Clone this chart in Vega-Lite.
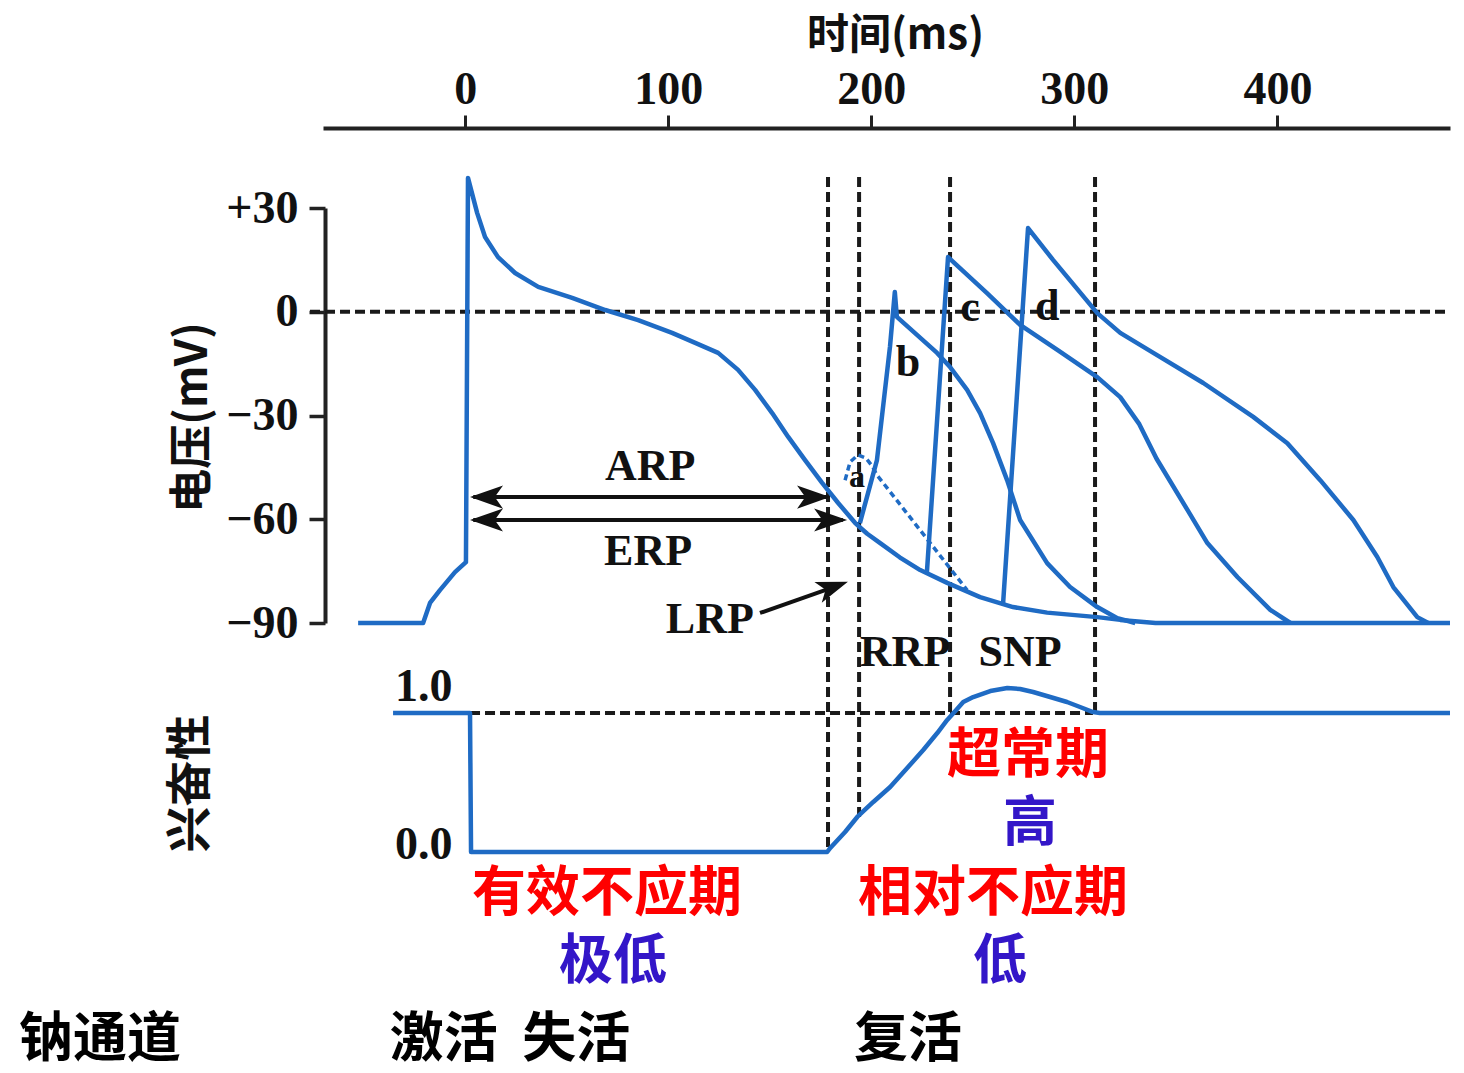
{
  "$schema": "https://vega.github.io/schema/vega-lite/v6.json",
  "width": 1127,
  "height": 945,
  "autosize": {"type": "none"},
  "padding": {"left": 323, "top": 128, "right": 14, "bottom": 0},
  "background": "white",
  "config": {"view": {"stroke": null}},
  "datasets": {
    "volt": [
      {"trace": "main", "t": -52.7, "v": -90}, {"trace": "main", "t": -20.7, "v": -90}, {"trace": "main", "t": -17.3, "v": -84.2},
      {"trace": "main", "t": -12.4, "v": -80.5}, {"trace": "main", "t": -5.0, "v": -75.3}, {"trace": "main", "t": 0.4, "v": -72.4},
      {"trace": "main", "t": 1.4, "v": 38.7}, {"trace": "main", "t": 5.9, "v": 28.6}, {"trace": "main", "t": 9.8, "v": 21.6},
      {"trace": "main", "t": 16.2, "v": 15.8}, {"trace": "main", "t": 24.6, "v": 11.2}, {"trace": "main", "t": 36.0, "v": 7.2},
      {"trace": "main", "t": 52.7, "v": 4.0}, {"trace": "main", "t": 69.0, "v": 0.5}, {"trace": "main", "t": 85.2, "v": -2.4},
      {"trace": "main", "t": 101.9, "v": -6.1}, {"trace": "main", "t": 113.3, "v": -9.0}, {"trace": "main", "t": 124.6, "v": -11.9},
      {"trace": "main", "t": 134.4, "v": -16.8}, {"trace": "main", "t": 142.8, "v": -22.6}, {"trace": "main", "t": 151.2, "v": -29.3},
      {"trace": "main", "t": 159.1, "v": -36.2}, {"trace": "main", "t": 167.4, "v": -42.9}, {"trace": "main", "t": 175.8, "v": -49.5},
      {"trace": "main", "t": 183.7, "v": -55.3}, {"trace": "main", "t": 192.1, "v": -61.1}, {"trace": "main", "t": 198.0, "v": -64.2},
      {"trace": "main", "t": 204.4, "v": -66.9}, {"trace": "main", "t": 214.0, "v": -71.0}, {"trace": "main", "t": 224.1, "v": -74.7},
      {"trace": "main", "t": 237.4, "v": -78.4}, {"trace": "main", "t": 253.6, "v": -82.5}, {"trace": "main", "t": 269.8, "v": -85.4},
      {"trace": "main", "t": 286.6, "v": -87.0}, {"trace": "main", "t": 311.3, "v": -88.3}, {"trace": "main", "t": 322.6, "v": -89.1},
      {"trace": "main", "t": 340, "v": -90}, {"trace": "main", "t": 485, "v": -90},
      {"trace": "b", "t": 194.4, "v": -61.1}, {"trace": "b", "t": 202.8, "v": -42.9}, {"trace": "b", "t": 209.2, "v": -10.2},
      {"trace": "b", "t": 211.6, "v": 5.7}, {"trace": "b", "t": 212.6, "v": -1.5}, {"trace": "b", "t": 232.4, "v": -11.9},
      {"trace": "b", "t": 238.8, "v": -16.0}, {"trace": "b", "t": 247.2, "v": -22.6}, {"trace": "b", "t": 253.6, "v": -29.3},
      {"trace": "b", "t": 260.0, "v": -38.0}, {"trace": "b", "t": 266.9, "v": -48.7}, {"trace": "b", "t": 273.3, "v": -60.2},
      {"trace": "b", "t": 286.6, "v": -72.7}, {"trace": "b", "t": 297.9, "v": -79.6}, {"trace": "b", "t": 311.3, "v": -85.4},
      {"trace": "b", "t": 321.2, "v": -88.6}, {"trace": "b", "t": 330, "v": -90},
      {"trace": "c", "t": 227.4, "v": -75.3}, {"trace": "c", "t": 237.8, "v": 15.8}, {"trace": "c", "t": 257.0, "v": 5.4},
      {"trace": "c", "t": 273.3, "v": -3.8}, {"trace": "c", "t": 292.0, "v": -11.2}, {"trace": "c", "t": 311.3, "v": -18.9},
      {"trace": "c", "t": 322.6, "v": -24.7}, {"trace": "c", "t": 332.0, "v": -32.5}, {"trace": "c", "t": 340.5, "v": -42.5},
      {"trace": "c", "t": 355.7, "v": -57.3}, {"trace": "c", "t": 365.5, "v": -66.9}, {"trace": "c", "t": 380.3, "v": -76.7},
      {"trace": "c", "t": 396.5, "v": -86.2}, {"trace": "c", "t": 406.4, "v": -90},
      {"trace": "d", "t": 264.9, "v": -84.5}, {"trace": "d", "t": 277.2, "v": 24.2}, {"trace": "d", "t": 289.5, "v": 15.0},
      {"trace": "d", "t": 311.3, "v": -0.4}, {"trace": "d", "t": 322.6, "v": -6.1}, {"trace": "d", "t": 338.9, "v": -11.9},
      {"trace": "d", "t": 363.5, "v": -20.6}, {"trace": "d", "t": 388.1, "v": -30.4}, {"trace": "d", "t": 404.9, "v": -38.0},
      {"trace": "d", "t": 421.1, "v": -48.7}, {"trace": "d", "t": 437.4, "v": -60.2}, {"trace": "d", "t": 449.2, "v": -70.9},
      {"trace": "d", "t": 457.1, "v": -79.6}, {"trace": "d", "t": 468.9, "v": -88.3}, {"trace": "d", "t": 474.3, "v": -90},
      {"trace": "a", "t": 187.1, "v": -48.7}, {"trace": "a", "t": 189.6, "v": -43.4}, {"trace": "a", "t": 193.5, "v": -41.4},
      {"trace": "a", "t": 197.4, "v": -42.3}, {"trace": "a", "t": 200.4, "v": -44.6}, {"trace": "a", "t": 202.8, "v": -47.2},
      {"trace": "a", "t": 247.2, "v": -80.5}
    ],
    "exc": [
      {"t": -35.5, "e": 1.0}, {"t": 2.4, "e": 1.0}, {"t": 2.9, "e": 0}, {"t": 178.3, "e": 0}, {"t": 179.8, "e": 0.029},
      {"t": 187.1, "e": 0.144}, {"t": 193.1, "e": 0.252}, {"t": 201.0, "e": 0.36}, {"t": 209.3, "e": 0.468}, {"t": 217.7, "e": 0.604},
      {"t": 225.6, "e": 0.734}, {"t": 232.5, "e": 0.856}, {"t": 237.4, "e": 0.95}, {"t": 241.4, "e": 1.014}, {"t": 245.3, "e": 1.079},
      {"t": 250.2, "e": 1.115}, {"t": 258.6, "e": 1.158}, {"t": 267.0, "e": 1.18}, {"t": 273.3, "e": 1.173}, {"t": 279.7, "e": 1.151},
      {"t": 288.1, "e": 1.115}, {"t": 296.4, "e": 1.079}, {"t": 302.8, "e": 1.043}, {"t": 309.2, "e": 1.007}, {"t": 312.6, "e": 1.0},
      {"t": 485, "e": 1.0}
    ],
    "vguides": [
      {"t": 178.7, "v": 39.0, "v2": -156.2}, {"t": 194.0, "v": 39.0, "v2": -146.1},
      {"t": 238.8, "v": 39.0, "v2": -116.0}, {"t": 310.2, "v": 39.0, "v2": -116.0}
    ],
    "zeroline": [{"t": -76.4, "t2": 485, "v": 0}],
    "oneline": [{"t": 2.4, "t2": 309.2, "e": 1}],
    "arrowlines": [{"name": "ARP", "t": 4, "t2": 178, "v": -53.6}, {"name": "ERP", "t": 4, "t2": 186, "v": -60.2}],
    "lrp": [{"t": 145.2, "v": -87.1}, {"t": 184.6, "v": -79.0}],
    "heads": [
      {"dir": "left", "t": 2.4, "v": -53.6}, {"dir": "left", "t": 2.4, "v": -60.2},
      {"dir": "right", "t": 179.7, "v": -53.6}, {"dir": "right", "t": 188.1, "v": -60.2},
      {"dir": "lrp", "t": 188.5, "v": -78.1}
    ],
    "vlabels": [
      {"label": "ARP", "t": 91.1, "v": -44.9}, {"label": "ERP", "t": 90.1, "v": -69.5}, {"label": "LRP", "t": 120.5, "v": -89.1},
      {"label": "RRP", "t": 216.6, "v": -98.7}, {"label": "SNP", "t": 273.3, "v": -98.7},
      {"label": "a", "t": 193.0, "v": -47.8}, {"label": "b", "t": 218.1, "v": -14.8},
      {"label": "c", "t": 248.6, "v": 1.1}, {"label": "d", "t": 286.6, "v": 1.4}
    ],
    "elabels": [
      {"label": "超常期", "kind": "period", "t": 277.2, "e": 0.683},
      {"label": "高", "kind": "level", "t": 278.2, "e": 0.194},
      {"label": "有效不应期", "kind": "period", "t": 69.9, "e": -0.309},
      {"label": "极低", "kind": "level", "t": 72.8, "e": -0.799},
      {"label": "相对不应期", "kind": "period", "t": 260.0, "e": -0.309},
      {"label": "低", "kind": "level", "t": 263.4, "e": -0.799},
      {"label": "钠通道", "kind": "channel", "t": -179.8, "e": -1.36},
      {"label": "激活\u00a0\u00a0失活", "kind": "channel", "t": 22.1, "e": -1.36},
      {"label": "复活", "kind": "channel", "t": 218.1, "e": -1.36}
    ]
  },
  "encoding": {
    "x": {
      "field": "t", "type": "quantitative",
      "scale": {"domain": [-70, 485], "nice": false, "zero": false},
      "axis": {
        "orient": "top", "values": [0, 100, 200, 300, 400], "grid": false,
        "domainColor": "#222", "domainWidth": 4, "tickColor": "#222", "tickWidth": 3, "tickSize": 13,
        "labelFont": "Liberation Serif", "labelFontWeight": "bold", "labelFontSize": 46, "labelColor": "#111",
        "labelPadding": 12, "labelBaseline": "alphabetic", "labelFlush": false, "labelOverlap": false,
        "title": "时间(ms)", "titleFont": "Noto Sans CJK SC", "titleFontWeight": "bold", "titleFontSize": 42,
        "titleX": 572, "titleY": -93, "titleAlign": "center", "titleBaseline": "middle", "titleColor": "#111"
      }
    }
  },
  "layer": [
    {
      "encoding": {
        "y": {
          "field": "v", "type": "quantitative",
          "scale": {"domain": [-90, 30], "range": [495, 80], "nice": false, "zero": false},
          "axis": {
            "orient": "left", "offset": -2, "values": [-90, -60, -30, 0, 30], "grid": false,
            "domainColor": "#222", "domainWidth": 4, "tickColor": "#222", "tickWidth": 3.5, "tickSize": 16,
            "labelFont": "Liberation Serif", "labelFontWeight": "bold", "labelFontSize": 46, "labelPadding": 11, "labelColor": "#111",
            "labelExpr": "datum.value > 0 ? '+' + datum.label : datum.label",
            "title": "电压(mV)", "titleFont": "Noto Sans CJK SC", "titleFontWeight": "bold", "titleFontSize": 44, "titleColor": "#111",
            "titleX": -132, "titleY": 289, "titleAlign": "center", "titleBaseline": "middle", "titleAngle": -90
          }
        }
      },
      "layer": [
        {
          "data": {"name": "vguides"},
          "mark": {"type": "rule", "color": "#1a1a1a", "strokeWidth": 4, "strokeDash": [10, 5]},
          "encoding": {"y2": {"field": "v2"}}
        },
        {
          "data": {"name": "zeroline"},
          "mark": {"type": "rule", "color": "#1a1a1a", "strokeWidth": 4, "strokeDash": [10, 5]},
          "encoding": {"x2": {"field": "t2"}}
        },
        {
          "data": {"name": "volt"},
          "transform": [{"filter": "datum.trace !== 'a'"}],
          "mark": {"type": "line", "color": "#1f6bc4", "strokeWidth": 4.5, "strokeJoin": "round"},
          "encoding": {"detail": {"field": "trace"}, "order": {"value": null}}
        },
        {
          "data": {"name": "volt"},
          "transform": [{"filter": "datum.trace === 'a'"}],
          "mark": {"type": "line", "color": "#1f6bc4", "strokeWidth": 3.5, "strokeDash": [6, 4]},
          "encoding": {"order": {"value": null}}
        },
        {
          "data": {"name": "arrowlines"},
          "mark": {"type": "rule", "color": "#111", "strokeWidth": 4},
          "encoding": {"x2": {"field": "t2"}}
        },
        {
          "data": {"name": "lrp"},
          "mark": {"type": "line", "color": "#111", "strokeWidth": 4},
          "encoding": {}
        },
        {
          "data": {"name": "heads"},
          "transform": [{"filter": "datum.dir === 'right'"}],
          "mark": {"type": "point", "filled": true, "color": "#111", "opacity": 1, "size": 1089, "shape": "M0,0L-2,-0.7L-1.5,0L-2,0.7Z", "angle": 0}
        },
        {
          "data": {"name": "heads"},
          "transform": [{"filter": "datum.dir === 'left'"}],
          "mark": {"type": "point", "filled": true, "color": "#111", "opacity": 1, "size": 1089, "shape": "M0,0L-2,-0.7L-1.5,0L-2,0.7Z", "angle": 180}
        },
        {
          "data": {"name": "heads"},
          "transform": [{"filter": "datum.dir === 'lrp'"}],
          "mark": {"type": "point", "filled": true, "color": "#111", "opacity": 1, "size": 1000, "shape": "M0,0L-2,-0.7L-1.5,0L-2,0.7Z", "angle": 340.6}
        },
        {
          "data": {"name": "vlabels"},
          "mark": {"type": "text", "font": "Liberation Serif", "fontWeight": "bold", "color": "#111", "align": "center", "baseline": "middle"},
          "encoding": {
            "text": {"field": "label"},
            "size": {"condition": {"test": "datum.label === 'a'", "value": 32}, "value": 44}
          }
        }
      ]
    },
    {
      "encoding": {
        "y": {
          "field": "e", "type": "quantitative",
          "scale": {"domain": [0, 1], "range": [724, 585], "nice": false, "zero": false},
          "axis": {
            "orient": "left", "offset": -131, "values": [0, 1], "format": ".1f", "grid": false,
            "domain": false, "ticks": false, "tickSize": 0,
            "labelFont": "Liberation Serif", "labelFontWeight": "bold", "labelFontSize": 46, "labelPadding": 2, "labelColor": "#111",
            "labelBaseline": "alphabetic",
            "labelOffset": {"condition": {"test": "datum.value == 1", "value": -13}, "value": 6},
            "title": "兴奋性", "titleFont": "Noto Sans CJK SC", "titleFontWeight": "bold", "titleFontSize": 46, "titleColor": "#111",
            "titleX": -264, "titleY": 655, "titleAlign": "center", "titleBaseline": "middle", "titleAngle": -90
          }
        }
      },
      "layer": [
        {
          "data": {"name": "oneline"},
          "mark": {"type": "rule", "color": "#1a1a1a", "strokeWidth": 4, "strokeDash": [10, 5]},
          "encoding": {"x2": {"field": "t2"}}
        },
        {
          "data": {"name": "exc"},
          "mark": {"type": "line", "color": "#1f6bc4", "strokeWidth": 4.5, "strokeJoin": "round"},
          "encoding": {"order": {"value": null}}
        },
        {
          "data": {"name": "elabels"},
          "mark": {"type": "text", "font": "Noto Sans CJK SC", "fontWeight": "bold", "fontSize": 54, "align": "center", "baseline": "middle"},
          "encoding": {
            "text": {"field": "label"},
            "color": {"field": "kind", "type": "nominal", "scale": {"domain": ["period", "level", "channel"], "range": ["#ff0000", "#3316c8", "#000000"]}, "legend": null}
          }
        }
      ]
    }
  ],
  "resolve": {"scale": {"y": "independent"}, "axis": {"y": "independent"}}
}
